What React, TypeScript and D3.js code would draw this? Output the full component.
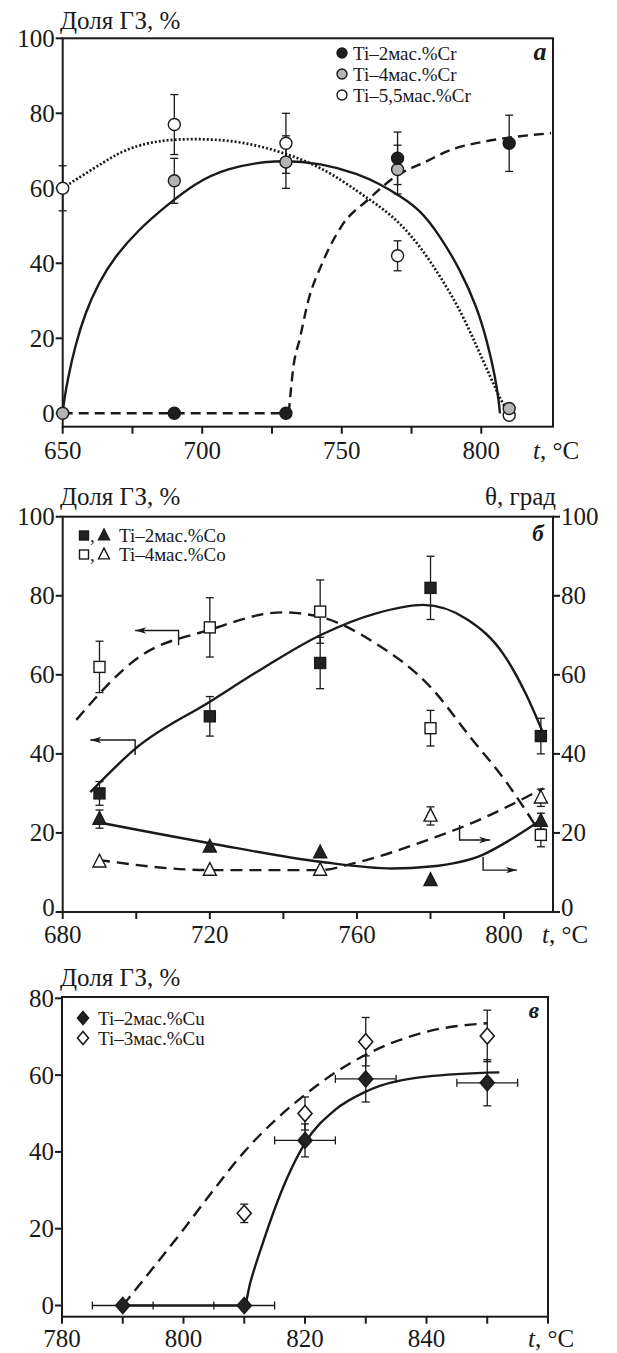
import React from 'react';
import * as d3 from 'd3';

type Pt = [number, number];

// ---------- Panel а (Cr) ----------
const crTemps = [650, 690, 730, 770, 810];
const cr2Share: (number | null)[] = [null, 0, 0, 68, 72];
const cr2Err = [0, 0, 0, 7, 7.5];
const cr4Share: (number | null)[] = [0, 62, 67, 65, 1.3];
const cr4Err = [0, 6, 7, 6.5, 0];
const cr55Share: (number | null)[] = [60, 77, 72, 42, -0.5];
const cr55Err = [6, 8, 8, 4, 0];
const crXTicks = [650, 700, 750, 800];
const crXMinor = [675, 725, 775];
const crYTicks = [0, 20, 40, 60, 80, 100];
const crLegend = ['Ti–2мас.%Cr', 'Ti–4мас.%Cr', 'Ti–5,5мас.%Cr'];
const cr2Flat: Pt[] = [[650, 0], [731, 0]];
const cr2Fit: Pt[] = [[731, 0], [732.6, 12], [735, 20], [738, 30], [743, 40], [750, 50], [759.5, 57], [770, 63.5], [779, 66.7], [790, 70.5], [800, 72.3], [811, 73.6], [825, 74.7]];
const cr4Fit: Pt[] = [[650, 0], [650.6, 4], [652, 9.8], [654.4, 17.8], [658, 26.7], [662.8, 34.7], [668.7, 41.8], [677.1, 48.9], [686.7, 55.1], [697.4, 61.3], [708.2, 65.3], [726, 67.7], [743, 66.7], [756, 63.8], [763.8, 61.1], [771, 57.9], [778.2, 54.2], [785.4, 47.1], [792.5, 38.2], [798.4, 28.4], [802, 19.5], [805, 9.8], [806.3, 3], [806.7, 0]];
const cr55Fit: Pt[] = [[650, 60], [654.4, 62.2], [665, 67.1], [672, 70.3], [684, 72.9], [700, 73.3], [715, 72.4], [730.5, 69.3], [744.6, 64.9], [756, 59], [763.8, 55.1], [771, 50.7], [778.2, 44.4], [785.4, 36.4], [792.5, 27.5], [798.4, 17.8], [803.2, 9.8], [807.3, 3], [809.6, 0.5]];

// ---------- Panel б (Co) ----------
const coTemps = [690, 720, 750, 780, 810];
const co2Share = [30, 49.5, 63, 82, 44.5];
const co2ShareErr = [3, 5, 6.5, 8, 4.5];
const co4Share = [62, 72, 76, 46.5, 19.5];
const co4ShareErr = [6.5, 7.5, 8, 4.5, 3];
const co2Angle = [23.5, 16.5, 15, 8, 23];
const co2AngleErr = [2.3, 0, 0, 0, 2];
const co4Angle = [12.7, 10.6, 10.6, 24.3, 28.9];
const co4AngleErr = [0, 0, 0, 2.3, 2.2];
const coXTicks = [680, 720, 760, 800];
const coXMinor = [700, 740, 780];
const coYTicks = [0, 20, 40, 60, 80, 100];
const coLegend = ['Ti–2мас.%Co', 'Ti–4мас.%Co'];
const co2ShareFit: Pt[] = [[687.5, 30.3], [700, 41.5], [720, 53.2], [735, 62], [750, 70], [765, 75.5], [778, 77.7], [790, 74], [800, 65], [806, 55], [810.5, 45.5]];
const co4ShareFit: Pt[] = [[683.7, 48.6], [700.3, 64.2], [720, 71.4], [739.7, 75.8], [750.2, 74.6], [764.3, 68.4], [780.3, 56.6], [791, 44], [800.5, 33], [809, 21.2]];
const co2AngleFit: Pt[] = [[688.5, 22.9], [720, 17.4], [750, 12.7], [769.6, 11], [780, 11.5], [794, 14.4], [801.6, 18.2], [810.7, 23.7]];
const co4AngleFit: Pt[] = [[689.6, 13.2], [720, 10.6], [750, 10.6], [759, 12.3], [780.3, 18.6], [791, 22.4], [810.7, 31.3]];
const arrowShareCo4: Pt[] = [[711.5, 67.5], [711.5, 71.2], [699.7, 71.2]];
const arrowShareCo2: Pt[] = [[699.7, 39.7], [699.7, 43.5], [687.5, 43.5]];
const arrowAngleCo4: Pt[] = [[787.9, 22], [787.9, 18.2], [796.2, 18.2]];
const arrowAngleCo2: Pt[] = [[794.3, 13.9], [794.3, 10.6], [803.5, 10.6]];

// ---------- Panel в (Cu) ----------
const cuTemps = [790, 810, 820, 830, 850];
const cu2Share = [0, 0, 43, 59, 58];
const cu2YErr = [0, 0, 4.3, 6, 6];
const cu2XErr = [5, 5, 5, 5, 5];
const cu3Share: (number | null)[] = [null, 24, 50, 68.7, 70.2];
const cu3YErr = [0, 2.4, 4.3, 6.3, 6.7];
const cuXTicks = [780, 800, 820, 840, 860];
const cuXLabels = [780, 800, 820, 840];
const cuXMinor = [790, 810, 830, 850];
const cuYTicks = [0, 20, 40, 60, 80];
const cuLegend = ['Ti–2мас.%Cu', 'Ti–3мас.%Cu'];
const cu2Fit: Pt[] = [[790, 0], [810, 0], [811, 6], [813, 16], [817, 33], [820, 42.3], [825, 51], [830, 55.7], [840, 59.6], [852, 60.7]];
const cu3Fit: Pt[] = [[790, 0], [795, 9.8], [800, 19.8], [805, 30.2], [810, 40], [820, 54.9], [830, 65.3], [840, 71.3], [850, 73.5]];

const FONT = 'Liberation Serif, Times New Roman, DejaVu Serif, serif';
const INK = '#1a1a1a';

function T(props: any) {
  return <text fontFamily={FONT} fill={INK} {...props} />;
}

function ErrV({ x, y0, y1, cap = 4 }: { x: number; y0: number; y1: number; cap?: number }) {
  return (
    <g stroke={INK} strokeWidth={1.3}>
      <line x1={x} x2={x} y1={y0} y2={y1} />
      <line x1={x - cap} x2={x + cap} y1={y0} y2={y0} />
      <line x1={x - cap} x2={x + cap} y1={y1} y2={y1} />
    </g>
  );
}
function ErrH({ y, x0, x1, cap = 4 }: { y: number; x0: number; x1: number; cap?: number }) {
  return (
    <g stroke={INK} strokeWidth={1.3}>
      <line x1={x0} x2={x1} y1={y} y2={y} />
      <line x1={x0} x2={x0} y1={y - cap} y2={y + cap} />
      <line x1={x1} x2={x1} y1={y - cap} y2={y + cap} />
    </g>
  );
}
const Circ = ({ x, y, r, fill }: { x: number; y: number; r: number; fill: string }) => (
  <circle cx={x} cy={y} r={r} fill={fill} stroke={INK} strokeWidth={1.4} />
);
const Sq = ({ x, y, s, filled }: { x: number; y: number; s: number; filled: boolean }) => (
  <rect x={x - s / 2} y={y - s / 2} width={s} height={s} fill={filled ? '#222' : '#fff'} stroke={INK} strokeWidth={1.4} />
);
const Tri = ({ x, y, s, filled }: { x: number; y: number; s: number; filled: boolean }) => (
  <polygon points={`${x},${y - s * 0.58} ${x - s / 2},${y + s * 0.4} ${x + s / 2},${y + s * 0.4}`} fill={filled ? '#222' : '#fff'} stroke={INK} strokeWidth={1.4} />
);
const Dia = ({ x, y, w, h, filled }: { x: number; y: number; w: number; h: number; filled: boolean }) => (
  <polygon points={`${x},${y - h} ${x + w},${y} ${x},${y + h} ${x - w},${y}`} fill={filled ? '#222' : '#fff'} stroke={INK} strokeWidth={1.6} />
);

function Arrow({ pts, sx, sy }: { pts: Pt[]; sx: (v: number) => number; sy: (v: number) => number }) {
  const p = pts.map((d) => [sx(d[0]), sy(d[1])] as Pt);
  const [a, b] = [p[p.length - 2], p[p.length - 1]];
  const ang = Math.atan2(b[1] - a[1], b[0] - a[0]);
  const L = 11, hw = 3.2;
  const bx = b[0] - L * Math.cos(ang), by = b[1] - L * Math.sin(ang);
  const nx = -Math.sin(ang) * hw, ny = Math.cos(ang) * hw;
  return (
    <g>
      <polyline points={p.map((d) => d.join(',')).join(' ')} fill="none" stroke={INK} strokeWidth={1.4} />
      <polygon points={`${b[0]},${b[1]} ${bx + nx},${by + ny} ${bx + 3 * Math.cos(ang)},${by + 3 * Math.sin(ang)} ${bx - nx},${by - ny}`} fill={INK} />
    </g>
  );
}

export default function App() {
  const ax = d3.scaleLinear().domain([650, 825.7]).range([62.7, 553]);
  const ay = d3.scaleLinear().domain([0, 100]).range([413.3, 38.3]);
  const aTop = 38.3, aBot = 426.7;
  const bx = d3.scaleLinear().domain([680, 813.3]).range([62.7, 553]);
  const by = d3.scaleLinear().domain([0, 100]).range([912, 516.7]);
  const bTop = 516.7, bBot = 912;
  const cx = d3.scaleLinear().domain([780, 860]).range([62, 548]);
  const cy = d3.scaleLinear().domain([0, 80]).range([1305.5, 998.3]);
  const cTop = 997, cBot = 1316.7;

  const lineA = d3.line<Pt>().x((d) => ax(d[0])).y((d) => ay(d[1])).curve(d3.curveBasis);
  const lineAm = d3.line<Pt>().x((d) => ax(d[0])).y((d) => ay(d[1])).curve(d3.curveMonotoneX);
  const lineB = d3.line<Pt>().x((d) => bx(d[0])).y((d) => by(d[1])).curve(d3.curveMonotoneX);
  const lineC = d3.line<Pt>().x((d) => cx(d[0])).y((d) => cy(d[1])).curve(d3.curveMonotoneX);

  const tick = 7;
  const tickFs = 25;
  const legFs = 19;

  const crFills = ['#1e1e1e', '#b4b4b4', '#ffffff'];
  const crSeries = [
    { v: cr2Share, e: cr2Err, fill: crFills[0] },
    { v: cr4Share, e: cr4Err, fill: crFills[1] },
    { v: cr55Share, e: cr55Err, fill: crFills[2] },
  ];

  return (
    <svg width={617} height={1353} style={{ position: 'absolute', left: 0, top: 0 }} fontFamily={FONT}>
      <rect x={0} y={0} width={617} height={1353} fill="#fff" />

      {/* ================= Panel а ================= */}
      <g>
        <T x={60} y={29} fontSize={25}>Доля ГЗ, %</T>
        <rect x={ax.range()[0]} y={aTop} width={ax.range()[1] - ax.range()[0]} height={aBot - aTop} fill="none" stroke={INK} strokeWidth={2} />
        {crYTicks.map((t) => (
          <g key={'ay' + t}>
            <line x1={ax.range()[0] - tick} x2={ax.range()[0]} y1={ay(t)} y2={ay(t)} stroke={INK} strokeWidth={2} />
            <T x={ax.range()[0] - tick - 1} y={ay(t) + 8.5} textAnchor="end" fontSize={tickFs}>{t}</T>
          </g>
        ))}
        {crXTicks.concat(crXMinor).map((t) => (
          <line key={'axt' + t} x1={ax(t)} x2={ax(t)} y1={aBot} y2={aBot + tick} stroke={INK} strokeWidth={2} />
        ))}
        {crXTicks.map((t) => (
          <T key={'axl' + t} x={ax(t)} y={459} textAnchor="middle" fontSize={tickFs}>{t}</T>
        ))}
        <T x={533} y={459} fontSize={tickFs}><tspan fontStyle="italic">t</tspan>, °C</T>
        <T x={540} y={60} textAnchor="middle" fontSize={26} fontWeight="bold" fontStyle="italic">а</T>

        <path d={lineA(cr4Fit) || ''} fill="none" stroke={INK} strokeWidth={2.4} />
        <path d={lineA(cr55Fit) || ''} fill="none" stroke={INK} strokeWidth={2.7} strokeDasharray="2 2" />
        <path d={lineAm(cr2Flat) || ''} fill="none" stroke={INK} strokeWidth={2.4} strokeDasharray="10 6" />
        <path d={lineAm(cr2Fit) || ''} fill="none" stroke={INK} strokeWidth={2.4} strokeDasharray="10 6" />

        {crSeries.map((s, si) =>
          crTemps.map((t, i) => {
            const v = s.v[i];
            if (v == null || !s.e[i]) return null;
            return <ErrV key={`ae${si}-${i}`} x={ax(t)} y0={ay(v - s.e[i])} y1={ay(v + s.e[i])} />;
          })
        )}
        {[2, 1, 0].map((si) =>
          crTemps.map((t, i) => {
            const v = crSeries[si].v[i];
            if (v == null) return null;
            return <Circ key={`am${si}-${i}`} x={ax(t)} y={ay(v)} r={6} fill={crSeries[si].fill} />;
          })
        )}
        {crLegend.map((l, i) => (
          <g key={'al' + i}>
            <Circ x={342} y={53 + i * 21} r={5} fill={crFills[i]} />
            <T x={353} y={53 + i * 21 + 6.5} fontSize={legFs}>{l}</T>
          </g>
        ))}
      </g>

      {/* ================= Panel б ================= */}
      <g>
        <T x={60} y={505} fontSize={25}>Доля ГЗ, %</T>
        <T x={556} y={505} textAnchor="end" fontSize={25}>θ, град</T>
        <rect x={bx.range()[0]} y={bTop} width={bx.range()[1] - bx.range()[0]} height={bBot - bTop} fill="none" stroke={INK} strokeWidth={2} />
        {coYTicks.map((t) => (
          <g key={'by' + t}>
            <line x1={bx.range()[0] - tick} x2={bx.range()[0]} y1={by(t)} y2={by(t)} stroke={INK} strokeWidth={2} />
            <T x={bx.range()[0] - tick - 1} y={by(t) + (t === 0 ? 4 : 8)} textAnchor="end" fontSize={tickFs}>{t}</T>
            <line x1={bx.range()[1]} x2={bx.range()[1] + tick} y1={by(t)} y2={by(t)} stroke={INK} strokeWidth={2} />
            <T x={bx.range()[1] + tick + 1} y={by(t) + (t === 0 ? 4 : 8)} textAnchor="start" fontSize={tickFs}>{t}</T>
          </g>
        ))}
        {coXTicks.concat(coXMinor).map((t) => (
          <line key={'bxt' + t} x1={bx(t)} x2={bx(t)} y1={bBot} y2={bBot + tick} stroke={INK} strokeWidth={2} />
        ))}
        {coXTicks.map((t) => (
          <T key={'bxl' + t} x={bx(t)} y={943} textAnchor="middle" fontSize={tickFs}>{t}</T>
        ))}
        <T x={542} y={943} fontSize={tickFs}><tspan fontStyle="italic">t</tspan>, °C</T>
        <T x={538} y={541} textAnchor="middle" fontSize={23} fontWeight="bold" fontStyle="italic">б</T>

        <path d={lineB(co2ShareFit) || ''} fill="none" stroke={INK} strokeWidth={2.4} />
        <path d={lineB(co4ShareFit) || ''} fill="none" stroke={INK} strokeWidth={2.4} strokeDasharray="12 7" />
        <path d={lineB(co2AngleFit) || ''} fill="none" stroke={INK} strokeWidth={2.4} />
        <path d={lineB(co4AngleFit) || ''} fill="none" stroke={INK} strokeWidth={2.4} strokeDasharray="12 7" />

        <Arrow pts={arrowShareCo4} sx={bx} sy={by} />
        <Arrow pts={arrowShareCo2} sx={bx} sy={by} />
        <Arrow pts={arrowAngleCo4} sx={bx} sy={by} />
        <Arrow pts={arrowAngleCo2} sx={bx} sy={by} />

        {coTemps.map((t, i) => (
          <g key={'be' + i}>
            {co2ShareErr[i] > 0 && <ErrV x={bx(t)} y0={by(co2Share[i] - co2ShareErr[i])} y1={by(co2Share[i] + co2ShareErr[i])} />}
            {co4ShareErr[i] > 0 && <ErrV x={bx(t)} y0={by(co4Share[i] - co4ShareErr[i])} y1={by(co4Share[i] + co4ShareErr[i])} />}
            {co2AngleErr[i] > 0 && <ErrV x={bx(t)} y0={by(co2Angle[i] - co2AngleErr[i])} y1={by(co2Angle[i] + co2AngleErr[i])} />}
            {co4AngleErr[i] > 0 && <ErrV x={bx(t)} y0={by(co4Angle[i] - co4AngleErr[i])} y1={by(co4Angle[i] + co4AngleErr[i])} />}
          </g>
        ))}
        {coTemps.map((t, i) => (
          <g key={'bm' + i}>
            <Sq x={bx(t)} y={by(co4Share[i])} s={11} filled={false} />
            <Sq x={bx(t)} y={by(co2Share[i])} s={11} filled={true} />
            <Tri x={bx(t)} y={by(co4Angle[i])} s={13} filled={false} />
            <Tri x={bx(t)} y={by(co2Angle[i])} s={13} filled={true} />
          </g>
        ))}
        {coLegend.map((l, i) => {
          const yy = 535.5 + i * 19;
          return (
            <g key={'bl' + i}>
              <Sq x={84} y={yy} s={9} filled={i === 0} />
              <T x={90} y={yy + 6.5} fontSize={legFs}>,</T>
              <Tri x={104} y={yy} s={11} filled={i === 0} />
              <T x={119} y={yy + 6.5} fontSize={legFs}>{l}</T>
            </g>
          );
        })}
      </g>

      {/* ================= Panel в ================= */}
      <g>
        <T x={60} y={986} fontSize={25}>Доля ГЗ, %</T>
        <rect x={cx.range()[0]} y={cTop} width={cx.range()[1] - cx.range()[0]} height={cBot - cTop} fill="none" stroke={INK} strokeWidth={2} />
        {cuYTicks.map((t) => (
          <g key={'cy' + t}>
            <line x1={cx.range()[0] - tick} x2={cx.range()[0]} y1={cy(t)} y2={cy(t)} stroke={INK} strokeWidth={2} />
            <T x={cx.range()[0] - tick - 1} y={cy(t) + 8.5} textAnchor="end" fontSize={tickFs}>{t}</T>
          </g>
        ))}
        {cuXTicks.concat(cuXMinor).map((t) => (
          <line key={'cxt' + t} x1={cx(t)} x2={cx(t)} y1={cBot} y2={cBot + tick} stroke={INK} strokeWidth={2} />
        ))}
        {cuXLabels.map((t) => (
          <T key={'cxl' + t} x={cx(t)} y={1347} textAnchor="middle" fontSize={tickFs}>{t}</T>
        ))}
        <T x={528} y={1347} fontSize={tickFs}><tspan fontStyle="italic">t</tspan>, °C</T>
        <T x={534} y={1018} textAnchor="middle" fontSize={23} fontWeight="bold" fontStyle="italic">в</T>

        <path d={lineC(cu3Fit) || ''} fill="none" stroke={INK} strokeWidth={2.4} strokeDasharray="12 7" />
        <path d={lineC(cu2Fit) || ''} fill="none" stroke={INK} strokeWidth={2.4} />

        {cuTemps.map((t, i) => (
          <g key={'ce' + i}>
            {cu2XErr[i] > 0 && <ErrH y={cy(cu2Share[i])} x0={cx(t - cu2XErr[i])} x1={cx(t + cu2XErr[i])} />}
            {cu2YErr[i] > 0 && <ErrV x={cx(t)} y0={cy(cu2Share[i] - cu2YErr[i])} y1={cy(cu2Share[i] + cu2YErr[i])} />}
            {cu3Share[i] != null && cu3YErr[i] > 0 && (
              <ErrV x={cx(t)} y0={cy((cu3Share[i] as number) - cu3YErr[i])} y1={cy((cu3Share[i] as number) + cu3YErr[i])} />
            )}
          </g>
        ))}
        {cuTemps.map((t, i) => (
          <g key={'cm' + i}>
            {cu3Share[i] != null && <Dia x={cx(t)} y={cy(cu3Share[i] as number)} w={7} h={8} filled={false} />}
            <Dia x={cx(t)} y={cy(cu2Share[i])} w={7} h={8} filled={true} />
          </g>
        ))}
        {cuLegend.map((l, i) => {
          const yy = 1018 + i * 20;
          return (
            <g key={'cl' + i}>
              <Dia x={83} y={yy} w={5.5} h={6.5} filled={i === 0} />
              <T x={98} y={yy + 6.5} fontSize={legFs}>{l}</T>
            </g>
          );
        })}
      </g>
    </svg>
  );
}
